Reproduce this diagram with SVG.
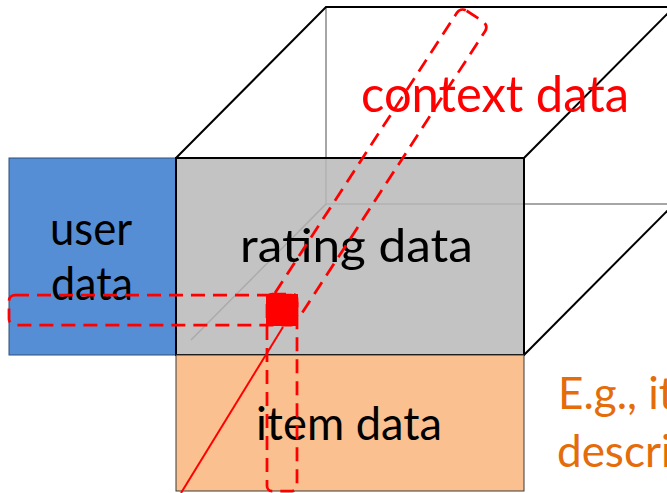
<svg xmlns="http://www.w3.org/2000/svg" width="667" height="493" viewBox="0 0 667 493">
  <style>
    .lbl { font-family: Lato, "Open Sans", "Liberation Sans", sans-serif; fill: #000000; }
    .edge { fill: none; stroke: #000000; stroke-width: 2; stroke-linejoin: miter; }
    .hidden { fill: none; stroke: #A6A6A6; stroke-width: 2; }
    .dash { fill: none; stroke: #FF0000; stroke-width: 2.75; stroke-dasharray: 14 8; }
  </style>

  <rect width="667" height="493" fill="#FFFFFF"/>

  <!-- cube: hidden back edges first, then faces -->
  <g id="cube">
    <polygon points="176,158 326,7 674,7 524,158" fill="#FFFFFF"/>
    <line class="hidden" x1="326" y1="7" x2="326" y2="204"/>
    <line class="hidden" x1="326" y1="204" x2="674" y2="204"/>
    <polyline class="edge" points="176,158 326,7 674,7"/>
    <line class="edge" x1="524" y1="158" x2="674" y2="7"/>
    <line class="edge" x1="524" y1="355" x2="674" y2="204"/>
  </g>

  <g id="user-data">
    <rect x="9" y="158" width="167" height="197" fill="#558ED5" stroke="#2F4F7A" stroke-width="1"/>
    <text class="lbl" x="50" y="245" font-size="46" textLength="82" lengthAdjust="spacingAndGlyphs">user</text>
    <text class="lbl" x="51" y="300" font-size="46" textLength="82" lengthAdjust="spacingAndGlyphs">data</text>
  </g>

  <g id="rating-data">
    <rect x="176" y="158" width="348" height="197" fill="#B8B8B8" fill-opacity="0.85"/>
    <line x1="326" y1="204" x2="191" y2="340" stroke="#A0A0A0" stroke-width="1.5" stroke-opacity="0.7"/>
    <rect class="edge" x="176" y="158" width="348" height="197"/>
    <text class="lbl" x="240" y="262" font-size="47" textLength="233" lengthAdjust="spacingAndGlyphs">rating data</text>
  </g>

  <g id="item-data">
    <rect x="176" y="355" width="348" height="136" fill="#FAC090" stroke="#3A3A3A" stroke-width="1"/>
    <text class="lbl" x="256" y="440" font-size="47" textLength="186" lengthAdjust="spacingAndGlyphs">item data</text>
  </g>

  <g id="context-data">
    <text x="361" y="112" font-family="Lato, 'Open Sans', 'Liberation Sans', sans-serif" font-size="50" fill="#FF0000" textLength="268" lengthAdjust="spacingAndGlyphs">context data</text>
  </g>

  <g id="note">
    <text x="558" y="409" font-family="Lato, 'Open Sans', 'Liberation Sans', sans-serif" font-size="44" fill="#E46C0A">E.g., it</text>
    <text x="557" y="467" font-family="Lato, 'Open Sans', 'Liberation Sans', sans-serif" font-size="44" fill="#E46C0A">descri</text>
  </g>

  <!-- red slices through the cube and the selected cell -->
  <g id="connectors">
    <rect class="dash" x="9" y="295" width="288" height="30" rx="6"/>
    <rect class="dash" x="267" y="294" width="30" height="197" rx="5"/>
    <rect class="dash" x="-16.8" y="-354" width="33.6" height="354" rx="7" transform="translate(282,313) rotate(33)"/>
    <line x1="283" y1="327" x2="181" y2="493" stroke="#FF0000" stroke-width="2"/>
    <rect id="cell" x="266" y="294" width="32" height="32" fill="#FF0000"/>
  </g>
</svg>
